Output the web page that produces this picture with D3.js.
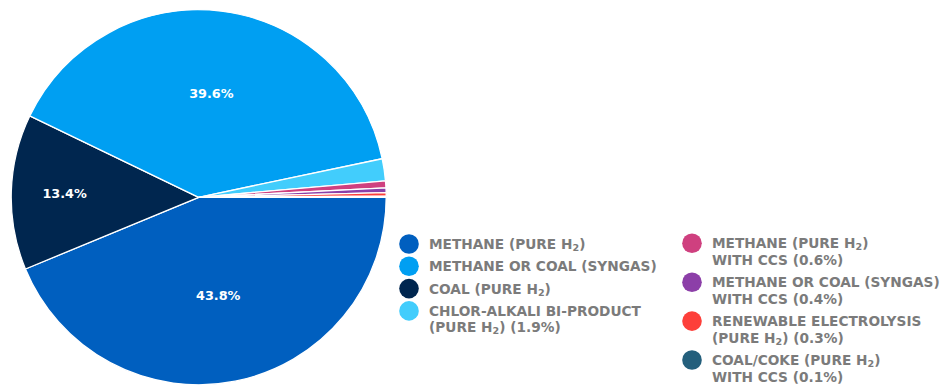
<!DOCTYPE html>
<html>
<head>
<meta charset="utf-8">
<script src="https://cdn.jsdelivr.net/npm/d3@7"></script>
<style>
  html, body { margin: 0; padding: 0; background: #fff; }
  svg { display: block; }
  text { font-family: "DejaVu Sans", sans-serif; font-weight: 700; }
</style>
</head>
<body>
<svg id="chart" width="946" height="385"></svg>
<script>
// Hydrogen production by source, share of total (%)
const sources = [
  "METHANE (PURE H|2|)",
  "COAL (PURE H|2|)",
  "METHANE OR COAL (SYNGAS)",
  "CHLOR-ALKALI BI-PRODUCT\n(PURE H|2|) (1.9%)",
  "METHANE (PURE H|2|)\nWITH CCS (0.6%)",
  "METHANE OR COAL (SYNGAS)\nWITH CCS (0.4%)",
  "RENEWABLE ELECTROLYSIS\n(PURE H|2|) (0.3%)",
  "COAL/COKE (PURE H|2|)\nWITH CCS (0.1%)"
];
const shares = [43.8, 13.4, 39.6, 1.9, 0.6, 0.4, 0.3, 0.1];
const colors = ["#005fbf", "#00264f", "#009ff2", "#42cdfc", "#cf407f", "#8c3fa8", "#fd3f3a", "#245f7c"];
// Order of entries in the legend (indices into sources)
const legendOrder = [0, 2, 1, 3, 4, 5, 6, 7];
// Slices that carry a percentage label
const labelled = [0, 1, 2];

const svg = d3.select("#chart");
const cx = 198.7, cy = 197.3, R = 187.5;

const total = d3.sum(shares);
const pie = d3.pie()
  .value(d => d)
  .sort(null)
  .startAngle(Math.PI / 2)
  .endAngle(Math.PI / 2 + 2 * Math.PI);

const arcs = pie(shares);
const arc = d3.arc().innerRadius(0).outerRadius(R);

const g = svg.append("g").attr("transform", `translate(${cx},${cy})`);

g.selectAll("path.slice")
  .data(arcs)
  .join("path")
  .attr("class", "slice")
  .attr("d", arc)
  .attr("fill", (d, i) => colors[i])
  .attr("stroke", "#fff")
  .attr("stroke-width", 1.3)
  .attr("stroke-linejoin", "round");

// Narrow slices sit their labels farther from the centre
g.selectAll("text.pct")
  .data(arcs.filter((d, i) => labelled.includes(i)))
  .join("text")
  .attr("class", "pct")
  .attr("transform", d => {
    const frac = d.value / total;
    const r = R * (0.795 - 0.594 * frac);
    const a = (d.startAngle + d.endAngle) / 2;
    return `translate(${r * Math.sin(a)},${-r * Math.cos(a)})`;
  })
  .attr("text-anchor", "middle")
  .attr("dy", "0.36em")
  .attr("fill", "#fff")
  .attr("font-size", 12.8)
  .text(d => d.value.toFixed(1) + "%");

// Legend: two columns of four entries
const lineH = 16.6, gap = 5.7;
const columns = [
  { x: 409, y: 244, items: legendOrder.slice(0, 4) },
  { x: 692, y: 243.3, items: legendOrder.slice(4) }
];

function addLabel(sel, str) {
  // "|2|" marks a subscript 2
  const parts = str.split("|");
  parts.forEach((p, k) => {
    if (k % 2 === 1) {
      sel.append("tspan").attr("font-size", "70%").attr("dy", 2).text(p);
    } else if (p.length) {
      const t = sel.append("tspan").text(p);
      if (k > 0) t.attr("dy", -2);
    }
  });
}

const legend = svg.append("g");
columns.forEach(col => {
  let y = col.y;
  col.items.forEach(i => {
    const lines = sources[i].split("\n");
    legend.append("circle")
      .attr("cx", col.x).attr("cy", y).attr("r", 9.8)
      .attr("fill", colors[i]);
    lines.forEach((ln, k) => {
      const t = legend.append("text")
        .attr("x", col.x + 20)
        .attr("y", y + k * lineH)
        .attr("dy", "0.36em")
        .attr("fill", "#7b7b7b")
        .attr("font-size", 13.7);
      addLabel(t, ln);
    });
    y += lines.length * lineH + gap;
  });
});
</script>
</body>
</html>
